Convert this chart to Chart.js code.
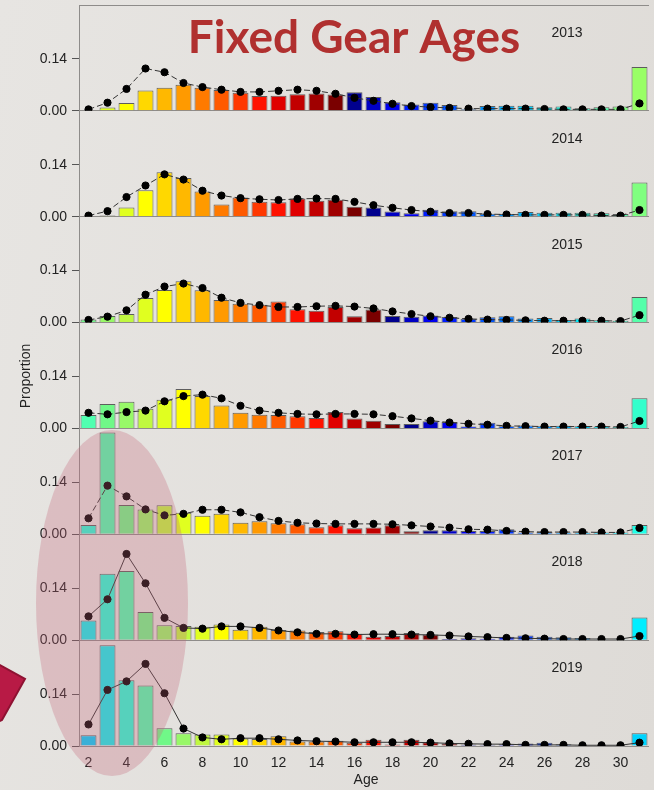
<!DOCTYPE html>
<html>
<head>
<meta charset="utf-8">
<script src="https://cdn.jsdelivr.net/npm/chart.js@4.4.1/dist/chart.umd.min.js"></script>
<style>
  html, body { margin: 0; padding: 0; }
  body { width: 654px; height: 790px; overflow: hidden; background: linear-gradient(100deg, #e7e5e2 0%, #dedbd7 100%); }
  canvas { display: block; }
</style>
</head>
<body>
<canvas id="grafico" width="654" height="790"></canvas>
<script>
const years = [2013, 2014, 2015, 2016, 2017, 2018, 2019];
const ages = [2, 3, 4, 5, 6, 7, 8, 9, 10, 11, 12, 13, 14, 15, 16, 17, 18, 19, 20, 21, 22, 23, 24, 25, 26, 27, 28, 29, 30, 31];
const xTickLabels = [2, 4, 6, 8, 10, 12, 14, 16, 18, 20, 22, 24, 26, 28, 30];
const yTickValues = [0, 0.14];

// observed proportions (bars), ages 2..31+
const obs2013 = [0, 0.009, 0.021, 0.055, 0.062, 0.070, 0.062, 0.056, 0.049, 0.040, 0.041, 0.045, 0.047, 0.044, 0.050, 0.037, 0.023, 0.017, 0.022, 0.016, 0.004, 0.013, 0.014, 0.014, 0.010, 0.012, 0.007, 0.010, 0.012, 0.118];
const obs2014 = [0, 0.003, 0.025, 0.071, 0.120, 0.104, 0.068, 0.033, 0.052, 0.040, 0.039, 0.049, 0.043, 0.046, 0.027, 0.025, 0.014, 0.009, 0.019, 0.015, 0.015, 0.008, 0.007, 0.013, 0.011, 0.011, 0.011, 0.009, 0.007, 0.092];
const obs2015 = [0.008, 0.018, 0.023, 0.066, 0.088, 0.111, 0.087, 0.061, 0.051, 0.048, 0.057, 0.036, 0.032, 0.042, 0.017, 0.035, 0.018, 0.016, 0.019, 0.015, 0.010, 0.014, 0.017, 0.011, 0.012, 0.007, 0.011, 0.006, 0.005, 0.069];
const obs2016 = [0.036, 0.066, 0.072, 0.053, 0.077, 0.106, 0.087, 0.062, 0.042, 0.037, 0.036, 0.033, 0.028, 0.044, 0.027, 0.021, 0.012, 0.012, 0.019, 0.017, 0.005, 0.015, 0.006, 0.008, 0.006, 0.007, 0.006, 0.005, 0.004, 0.081];
const obs2017 = [0.025, 0.274, 0.079, 0.067, 0.078, 0.058, 0.050, 0.055, 0.031, 0.035, 0.030, 0.027, 0.019, 0.024, 0.016, 0.018, 0.024, 0.008, 0.011, 0.011, 0.009, 0.009, 0.0135, 0.005, 0.006, 0.005, 0.005, 0.005, 0.005, 0.025];
const obs2018 = [0.053, 0.179, 0.186, 0.076, 0.040, 0.038, 0.036, 0.042, 0.028, 0.036, 0.027, 0.026, 0.022, 0.024, 0.017, 0.009, 0.011, 0.019, 0.015, 0.003, 0.005, 0.004, 0.009, 0.0125, 0.009, 0.008, 0.006, 0.002, 0.002, 0.061];
const obs2019 = [0.029, 0.271, 0.177, 0.163, 0.048, 0.034, 0.031, 0.031, 0.020, 0.019, 0.026, 0.012, 0.012, 0.014, 0.009, 0.017, 0.004, 0.017, 0.010, 0.007, 0.004, 0.003, 0.0045, 0.007, 0.009, 0.0045, 0.001, 0.001, 0.001, 0.034];

// predicted proportions (dots)
const pred2013 = [0.004, 0.022, 0.059, 0.114, 0.104, 0.075, 0.064, 0.057, 0.051, 0.051, 0.054, 0.057, 0.054, 0.046, 0.035, 0.027, 0.019, 0.013, 0.010, 0.008, 0.006, 0.006, 0.006, 0.006, 0.005, 0.004, 0.004, 0.004, 0.004, 0.020];
const pred2014 = [0.003, 0.015, 0.053, 0.084, 0.114, 0.100, 0.070, 0.057, 0.050, 0.047, 0.045, 0.048, 0.049, 0.048, 0.040, 0.031, 0.024, 0.018, 0.0135, 0.010, 0.010, 0.007, 0.006, 0.005, 0.005, 0.005, 0.005, 0.003, 0.003, 0.018];
const pred2015 = [0.007, 0.016, 0.033, 0.075, 0.097, 0.105, 0.093, 0.067, 0.053, 0.047, 0.042, 0.042, 0.044, 0.045, 0.043, 0.038, 0.030, 0.023, 0.017, 0.013, 0.010, 0.008, 0.007, 0.006, 0.005, 0.005, 0.005, 0.005, 0.004, 0.020];
const pred2016 = [0.042, 0.038, 0.044, 0.048, 0.073, 0.087, 0.091, 0.081, 0.061, 0.048, 0.042, 0.039, 0.038, 0.039, 0.039, 0.038, 0.033, 0.027, 0.021, 0.016, 0.0125, 0.010, 0.007, 0.006, 0.005, 0.005, 0.005, 0.005, 0.004, 0.020];
const pred2017 = [0.043, 0.131, 0.102, 0.067, 0.051, 0.055, 0.066, 0.066, 0.059, 0.046, 0.036, 0.031, 0.029, 0.028, 0.028, 0.028, 0.027, 0.024, 0.021, 0.018, 0.0135, 0.0125, 0.009, 0.007, 0.006, 0.006, 0.006, 0.005, 0.005, 0.017];
const pred2018 = [0.064, 0.110, 0.232, 0.153, 0.060, 0.033, 0.031, 0.037, 0.037, 0.033, 0.026, 0.021, 0.017, 0.017, 0.015, 0.016, 0.016, 0.015, 0.014, 0.0125, 0.010, 0.008, 0.006, 0.005, 0.004, 0.003, 0.003, 0.003, 0.003, 0.011];
const pred2019 = [0.058, 0.151, 0.174, 0.221, 0.142, 0.047, 0.023, 0.018, 0.021, 0.021, 0.018, 0.015, 0.013, 0.012, 0.010, 0.010, 0.010, 0.010, 0.009, 0.007, 0.006, 0.005, 0.005, 0.003, 0.003, 0.003, 0.002, 0.002, 0.002, 0.009];

const observados = { 2013: obs2013, 2014: obs2014, 2015: obs2015, 2016: obs2016, 2017: obs2017, 2018: obs2018, 2019: obs2019 };
const predichos = { 2013: pred2013, 2014: pred2014, 2015: pred2015, 2016: pred2016, 2017: pred2017, 2018: pred2018, 2019: pred2019 };

// bar colour follows the year class (year - age), starting at 1982
const primeraCohorte = 1982;
const coloresCohorte = [
  '#99ff66', '#80ff80', '#55ffaa', '#33ffcc', '#22ffe8', '#00eeff', '#00d4ff', '#00b4ff',
  '#0094ff', '#0074ff', '#0056ff', '#0038ff', '#001cff', '#0000ee', '#0000c4', '#00008e',
  '#7a0000', '#a00000', '#c20000', '#e00000', '#ff1200', '#ff3800', '#ff5a00', '#ff7a00',
  '#ff9a00', '#ffb800', '#ffd800', '#ffff00', '#e0ff20', '#c0f840', '#98f868', '#70f888',
  '#50ffb0', '#28ffd8', '#10f0f0', '#00d0ff'
];

const yMax = 0.285;
const fuente = { family: 'Liberation Sans, Arial, sans-serif', size: 14 };
const colorTexto = '#222';

function colorBarra(anio, edad) {
  return coloresCohorte[anio - edad - primeraCohorte];
}

const escalas = {
  x: {
    type: 'category',
    offset: true,
    grid: { display: false },
    border: { display: false },
    ticks: {
      autoSkip: false,
      maxRotation: 0,
      padding: 1,
      font: fuente,
      color: colorTexto,
      callback: function(val, i) {
        return xTickLabels.includes(ages[i]) ? String(ages[i]) : '';
      }
    },
    afterFit: function(s) { s.height = 44; s.paddingLeft = 0; s.paddingRight = 0; }
  }
};

// stacked axes are laid out bottom-up, so the last year goes in first
years.slice().reverse().forEach(anio => {
  escalas['y' + anio] = {
    type: 'linear',
    position: 'left',
    stack: 'paneles',
    stackWeight: 1,
    min: 0,
    max: yMax,
    afterBuildTicks: function(s) { s.ticks = yTickValues.map(v => ({ value: v })); },
    afterFit: function(s) { s.width = 79; s.paddingTop = 0; s.paddingBottom = 0; },
    ticks: {
      font: fuente,
      color: colorTexto,
      padding: 5,
      callback: v => v.toFixed(2)
    },
    grid: {
      color: c => (c.tick && c.tick.value === 0) ? '#8e8c8a' : 'rgba(0,0,0,0)',
      tickColor: '#555',
      tickLength: 7,
      lineWidth: 1
    },
    border: { display: true, color: '#8e8c8a' }
  };
});

const datasets = [];
years.forEach(anio => {
  datasets.push({
    type: 'bar',
    label: 'obs ' + anio,
    data: observados[anio],
    yAxisID: 'y' + anio,
    backgroundColor: ages.map(a => colorBarra(anio, a)),
    borderColor: 'rgba(60,60,60,0.8)',
    borderWidth: 1,
    barPercentage: 0.84,
    categoryPercentage: 1,
    grouped: false,
    order: 1
  });
  datasets.push({
    type: 'line',
    label: 'pred ' + anio,
    data: predichos[anio],
    yAxisID: 'y' + anio,
    borderColor: '#333',
    borderWidth: 1,
    borderDash: anio <= 2017 ? [6, 3] : [],
    pointRadius: 3.6,
    pointBackgroundColor: '#000',
    pointBorderColor: '#000',
    tension: 0,
    order: 0
  });
});

const decoraciones = {
  id: 'decoraciones',
  afterDraw(chart) {
    const ctx = chart.ctx;
    const area = chart.chartArea;
    ctx.save();

    // top edge of the frame
    ctx.strokeStyle = '#8e8c8a';
    ctx.lineWidth = 1;
    ctx.beginPath();
    ctx.moveTo(area.left, area.top + 0.5);
    ctx.lineTo(area.right, area.top + 0.5);
    ctx.stroke();

    // year labels
    ctx.fillStyle = colorTexto;
    ctx.font = '14px Liberation Sans, Arial, sans-serif';
    ctx.textAlign = 'center';
    ctx.textBaseline = 'middle';
    years.forEach(anio => {
      const esc = chart.scales['y' + anio];
      ctx.fillText(String(anio), 567, esc.top + 28);
    });

    ctx.fillText('Age', 366, 780);
    ctx.save();
    ctx.translate(26, 376);
    ctx.rotate(-Math.PI / 2);
    ctx.fillText('Proportion', 0, 0);
    ctx.restore();

    // title
    let tam = 42;
    ctx.font = 'bold ' + tam + 'px Lato, sans-serif';
    tam = Math.min(46, tam * 342 / ctx.measureText('Fixed Gear Ages').width);
    ctx.font = 'bold ' + tam + 'px Lato, sans-serif';
    ctx.fillStyle = '#b0302f';
    ctx.textBaseline = 'alphabetic';
    ctx.fillText('Fixed Gear Ages', 354, 53);

    // highlight ellipse
    ctx.fillStyle = 'rgba(196,104,124,0.3)';
    ctx.beginPath();
    ctx.ellipse(112, 603, 76, 173, 0, 0, Math.PI * 2);
    ctx.fill();

    // arrow tip at left edge
    ctx.fillStyle = '#b81a45';
    ctx.strokeStyle = '#8e1232';
    ctx.lineWidth = 2;
    ctx.beginPath();
    ctx.moveTo(-2, 664);
    ctx.lineTo(25, 679);
    ctx.lineTo(2, 720);
    ctx.lineTo(-2, 722);
    ctx.closePath();
    ctx.fill();
    ctx.stroke();

    ctx.restore();
  }
};

const grafico = new Chart(document.getElementById('grafico').getContext('2d'), {
  data: { labels: ages.map(String), datasets: datasets },
  options: {
    responsive: false,
    animation: false,
    layout: { padding: { top: 5, right: 0, left: 0, bottom: 0 } },
    plugins: { legend: { display: false }, tooltip: { enabled: false } },
    scales: escalas
  },
  plugins: [decoraciones]
});
</script>
</body>
</html>
